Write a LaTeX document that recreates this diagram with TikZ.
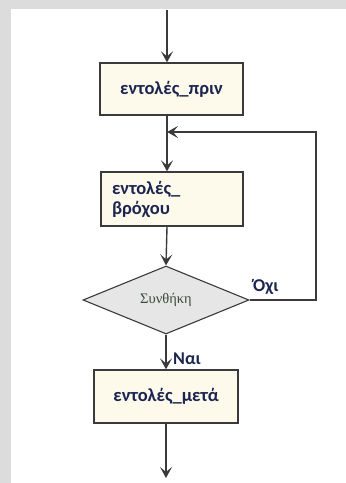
\documentclass[tikz,border=0pt]{standalone}
\usepackage{fontspec}
\setmainfont{Carlito}
\newfontfamily\serifgr{Liberation Serif}
\usetikzlibrary{arrows.meta,shapes.geometric}
\definecolor{bordergray}{HTML}{DCDCDC}
\definecolor{boxfill}{HTML}{FDFAEC}
\definecolor{linegray}{HTML}{3A3A3A}
\definecolor{txtnavy}{HTML}{1B2550}
\definecolor{diafill}{HTML}{E6E6E6}
\definecolor{condtxt}{HTML}{3C4A3C}
\tikzset{
  box/.style={draw=linegray, line width=1.3pt, fill=boxfill, inner sep=0pt,
    font=\fontsize{18.5}{20}\selectfont\bfseries, text=txtnavy},
  cond/.style={diamond, draw=linegray, line width=1.1pt, fill=diafill, inner sep=0pt,
    minimum width=166pt, minimum height=68pt, font=\serifgr\fontsize{14.5}{16}\selectfont, text=condtxt},
  lbl/.style={font=\fontsize{18}{20}\selectfont\bfseries, text=txtnavy, inner sep=0pt},
  arr/.style={draw=linegray, line width=1.4pt, -{Stealth[length=11pt,width=12pt,inset=5pt]}},
  conn/.style={draw=linegray, line width=1.4pt}
}
\begin{document}
\begin{tikzpicture}[x=1pt,y=-1pt]
\useasboundingbox (0,0) rectangle (346,483);
\fill[white] (0,0) rectangle (346,483);
\fill[bordergray] (0,0) rectangle (346,9);
\fill[bordergray] (0,0) rectangle (11,483);

\node[box, minimum width=143pt, minimum height=52pt] (b1) at (171.5,89) {εντολές\_πριν};
\node[box, text width=120pt, inner xsep=11pt, minimum height=54pt, align=left] (b2) at (172,199) {εντολές\_\\βρόχου};
\node[cond] (d) at (166,300) {Συνθήκη};
\node[box, minimum width=144pt, minimum height=53pt] (b3) at (166,396.5) {εντολές\_μετά};

\node[lbl, anchor=west] (no) at (253,287) {Όχι};
\node[lbl, anchor=west] (yes) at (173,359) {Ναι};

\coordinate (start) at (167,10);
\coordinate (endpt) at (167,478);
\coordinate (loopcorner) at (316,132);

\draw[arr] (start) -- (start |- b1.north);
\draw[arr] (b1.south -| start) -- (b2.north -| start);
\draw[arr] (b2.south -| start) -- (d.north);
\draw[arr] (d.south) -- (b3.north -| d.south);
\draw[arr] (b3.south -| d.south) -- (endpt -| d.south);
\draw[arr] (d.east) -| (loopcorner) -- (loopcorner -| start);
\end{tikzpicture}
\end{document}
